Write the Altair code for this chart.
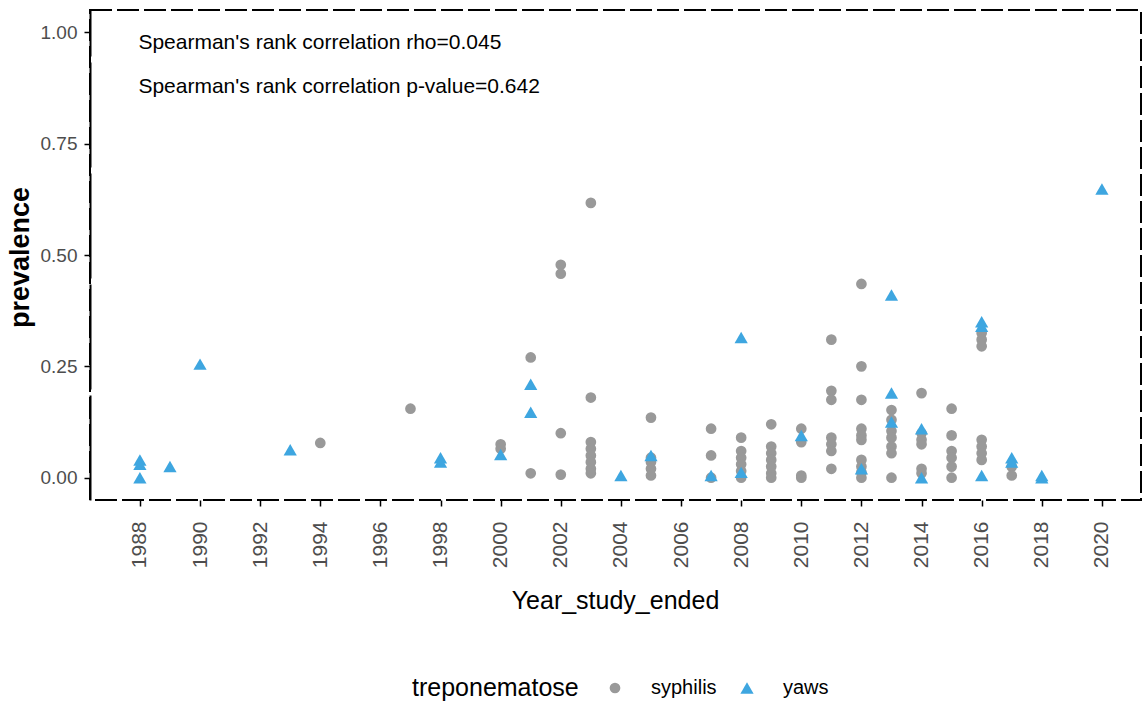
import altair as alt
import pandas as pd

# ---- data ----
syph_year = (
    [1994, 1997, 2000, 2000, 2001, 2001]
    + [2002] * 4 + [2003] * 8 + [2005] * 5 + [2007] * 3 + [2008] * 6
    + [2009] * 7 + [2010] * 4 + [2011] * 7 + [2012] * 10 + [2013] * 7
    + [2014] * 6 + [2015] * 6 + [2016] * 7 + [2017] * 2
)
syph_val = (
    [0.078, 0.155, 0.075, 0.065, 0.27, 0.01]
    + [0.478, 0.458, 0.10, 0.007]
    + [0.617, 0.18, 0.08, 0.065, 0.05, 0.035, 0.02, 0.01]
    + [0.135, 0.045, 0.035, 0.02, 0.005]
    + [0.11, 0.05, 0.0]
    + [0.09, 0.06, 0.045, 0.03, 0.015, 0.0]
    + [0.12, 0.07, 0.055, 0.04, 0.025, 0.01, 0.0]
    + [0.11, 0.08, 0.005, 0.0]
    + [0.31, 0.195, 0.175, 0.09, 0.075, 0.06, 0.02]
    + [0.435, 0.25, 0.175, 0.11, 0.095, 0.085, 0.04, 0.025, 0.012, 0.0]
    + [0.152, 0.13, 0.105, 0.09, 0.07, 0.055, 0.0]
    + [0.19, 0.10, 0.085, 0.075, 0.02, 0.01]
    + [0.155, 0.095, 0.06, 0.045, 0.025, 0.0]
    + [0.325, 0.31, 0.295, 0.085, 0.07, 0.055, 0.04]
    + [0.025, 0.005]
)
yaws_year = [1988, 1988, 1988, 1989, 1990, 1993, 1998, 1998, 2000, 2001, 2001,
             2004, 2005, 2007, 2008, 2008, 2010, 2012, 2013, 2013, 2013,
             2014, 2014, 2016, 2016, 2016, 2017, 2017, 2018, 2018, 2020]
yaws_val = [0.04, 0.03, 0.0, 0.025, 0.255, 0.063, 0.045, 0.035, 0.052, 0.21, 0.147,
            0.005, 0.05, 0.005, 0.315, 0.012, 0.095, 0.02, 0.41, 0.19, 0.125,
            0.11, 0.0, 0.35, 0.34, 0.005, 0.045, 0.035, 0.0, 0.005, 0.648]

groups = ["syphilis", "yaws"]
group_colors = ["#999999", "#3ea6e0"]
group_shapes = ["circle", "triangle-up"]
group_sizes = [115, 175]
year_ticks = list(range(1988, 2021, 2))
prev_ticks = [0.0, 0.25, 0.5, 0.75, 1.0]

notes = ["Spearman's rank correlation rho=0.045",
         "Spearman's rank correlation p-value=0.642"]
note_x = [1987.95, 1987.95]
note_y = [0.975, 0.878]

df = pd.DataFrame({
    "Year_study_ended": syph_year + yaws_year,
    "prevalence": syph_val + yaws_val,
    "treponematose": ["syphilis"] * len(syph_year) + ["yaws"] * len(yaws_year),
})
notes_df = pd.DataFrame({"x": note_x, "y": note_y, "text": notes})

FONT = "Liberation Sans, Arial"

xscale = alt.Scale(domain=[1986.34, 2021.3], nice=False, zero=False)
yscale = alt.Scale(domain=[-0.05, 1.05], nice=False, zero=False)

legend = alt.Legend(orient="none", legendX=322, legendY=668,
                    direction="horizontal", titleOrient="left",
                    titleFont=FONT, titleFontSize=25, titleLimit=400,
                    titleFontWeight="normal", titleColor="black",
                    titlePadding=26, labelFont=FONT,
                    labelFontSize=20, labelColor="black",
                    labelOffset=26, columnPadding=20,
                    symbolStrokeWidth=0)

points = alt.Chart(df).mark_point(filled=True, opacity=1).encode(
    x=alt.X("Year_study_ended:Q", scale=xscale,
            axis=alt.Axis(values=year_ticks, format="d", labelAngle=270,
                          labelFont=FONT, labelFontSize=21, labelColor="#4d4d4d",
                          tickSize=6, tickColor="black", tickWidth=1.5,
                          labelPadding=15, domain=False, grid=False,
                          title="Year_study_ended", titleFont=FONT,
                          titleFontSize=25, titleFontWeight="normal",
                          titleColor="black", titleX=525, titleY=100,
                          titleBaseline="middle", titleAlign="center")),
    y=alt.Y("prevalence:Q", scale=yscale,
            axis=alt.Axis(values=prev_ticks, format=".2f",
                          labelFont=FONT, labelFontSize=19, labelColor="#4d4d4d",
                          tickSize=6, tickColor="black", tickWidth=1.5,
                          labelPadding=7, grid=False,
                          domain=True, domainColor="black", domainWidth=2,
                          domainDash=[105, 6],
                          title="prevalence", titleFont=FONT, titleFontSize=27,
                          titleFontWeight="bold", titleColor="black",
                          titleX=-70, titleY=247, titleAngle=270,
                          titleBaseline="middle", titleAlign="center")),
    color=alt.Color("treponematose:N",
                    scale=alt.Scale(domain=groups, range=group_colors),
                    legend=legend),
    shape=alt.Shape("treponematose:N",
                    scale=alt.Scale(domain=groups, range=group_shapes),
                    legend=legend),
    size=alt.Size("treponematose:N",
                  scale=alt.Scale(domain=groups, range=group_sizes),
                  legend=legend),
)

text = alt.Chart(notes_df).mark_text(
    align="left", baseline="middle", font=FONT, fontSize=21, color="black"
).encode(x=alt.X("x:Q", scale=xscale), y=alt.Y("y:Q", scale=yscale), text="text:N")

chart = alt.layer(points, text).properties(
    width=1051, height=490,
    background="white",
    autosize=alt.AutoSizeParams(type="none"),
    padding={"left": 90, "top": 10, "right": 4, "bottom": 215},
).configure_view(
    stroke="black", strokeWidth=2, strokeDash=[22, 5]
)

chart.save("out.html", embed_options={"renderer": "svg", "actions": False})
